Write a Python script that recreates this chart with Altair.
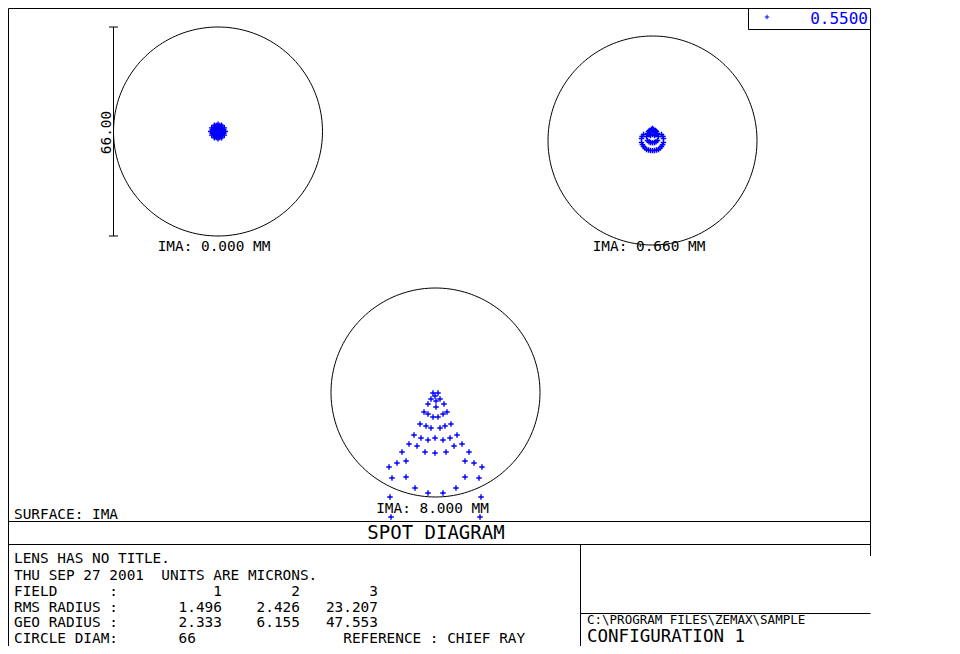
import altair as alt
import pandas as pd
import numpy as np

# ---------------- values ----------------
WAVELENGTH = "0.5500"
FIELDS = [1, 2, 3]
FIELD_LABELS = ["IMA: 0.000 MM", "IMA: 0.660 MM", "IMA: 8.000 MM"]
RMS_RADIUS = ["1.496", "2.426", "23.207"]
GEO_RADIUS = ["2.333", "6.155", "47.553"]
CIRCLE_DIAM = 66          # microns
SCALE_BAR_LABEL = "66.00"

# spot positions (microns, relative to chief ray, y up)
F1_X = [0, 0.8, 0.4, -0.4, -0.8, -0.4, 0.4,
        1.6, 1.4, 0.8, 0, -0.8, -1.4, -1.6, -1.4, -0.8, 0, 0.8, 1.4,
        2.3, 2.0, 1.15, 0, -1.15, -2.0, -2.3, -2.0, -1.15, 0, 1.15, 2.0,
        1.16, 0.85, 0.31, -0.31, -0.85, -1.16, -1.16, -0.85, -0.31, 0.31, 0.85, 1.16,
        1.88, 1.38, 0.5, -0.5, -1.38, -1.88, -1.88, -1.38, -0.5, 0.5, 1.38, 1.88]
F1_Y = [0, 0, 0.7, 0.7, 0, -0.7, -0.7,
        0, 0.8, 1.4, 1.6, 1.4, 0.8, 0, -0.8, -1.4, -1.6, -1.4, -0.8,
        0, 1.15, 2.0, 2.3, 2.0, 1.15, 0, -1.15, -2.0, -2.3, -2.0, -1.15,
        0.31, 0.85, 1.16, 1.16, 0.85, 0.31, -0.31, -0.85, -1.16, -1.16, -0.85, -0.31,
        0.5, 1.38, 1.88, 1.88, 1.38, 0.5, -0.5, -1.38, -1.88, -1.88, -1.38, -0.5]

F2_X = [0.0, -0.95, 0.95, -0.63, 0.63, -1.58, 0.0, 1.58, -1.89, -0.63, 0.63, 1.89,
        -1.58, -0.63, 0.63, 1.58, -3.47, 3.47, -3.47, 3.47, -2.84, 2.84,
        -1.89, 1.89, -0.63, 0.63, -2.84, 2.84,
        -1.26, 1.26, -0.32, 0.32, -1.0, 1.0, 0.0,
        -3.3, 3.3, -3.2, 3.2, -2.4, 2.4, -1.26, 1.26, 0.0,
        -1.1, 1.1, 0.0]
F2_Y = [3.79, 3.16, 3.16, 2.84, 2.84, 2.21, 2.53, 2.21, 1.26, 1.58, 1.58, 1.26,
        0.0, -0.63, -0.63, 0.0, 0.63, 0.63, -0.63, -0.63, -1.89, -1.89,
        -2.84, -2.84, -3.16, -3.16, 1.89, 1.89,
        2.84, 2.84, 3.47, 3.47, 1.9, 1.9, 1.9,
        1.3, 1.3, -1.3, -1.3, -2.4, -2.4, -3.0, -3.0, -3.2,
        -0.4, -0.4, -0.7]

F3_X = [-0.79, 0.79, -0.16, -1.42, 1.42, 0.16, -2.37, 2.68, 0.16, -3.63, 3.63,
        -2.37, 2.37, -0.79, 0.79, -4.89, 4.89, -3.0, 3.0, -1.42, 1.42, -6.79, 6.79,
        -4.58, 4.58, -2.37, 2.37, -0.16, -8.37, 8.37, -5.84, 5.84, -3.32, -0.16, 3.32,
        -10.58, 10.58, -12.16, 12.16, -9.31, 9.31, -14.68, 14.68, -13.74, 13.74,
        -9.31, 9.31, -6.47, 6.47, -2.37, 2.37, -14.37, 14.37, -14.05, 14.05]
F3_Y = [-0.16, -0.16, -1.11, -2.05, -2.05, -2.68, -3.63, -3.63, -4.58, -6.16, -6.16,
        -6.79, -6.79, -7.74, -7.74, -9.95, -9.95, -10.58, -10.58, -11.21, -11.21,
        -13.42, -13.42, -14.37, -14.37, -15.0, -15.0, -14.37, -16.26, -16.26,
        -16.89, -16.89, -18.79, -19.1, -18.79, -18.79, -18.79, -22.26, -22.26,
        -21.63, -21.63, -23.52, -23.52, -27.0, -27.0, -26.68, -26.68, -30.15, -30.15,
        -31.73, -31.73, -33.0, -33.0, -39.31, -39.31]

# ---------------- layout (page pixels) ----------------
CX = [218, 652.5, 435.5]
CY = [131.5, 140.5, 392.5]
PX_PER_UM = 209 / 66
FONT = "DejaVu Sans Mono"
BLUE = "#0000ff"
PLUS = "M-1,0H1M0,-1V1"

XS = alt.Scale(domain=[8, 952], nice=False, zero=False)
YS = alt.Scale(domain=[646, 8], nice=False, zero=False)


def X(f):
    return alt.X(f, type="quantitative", scale=XS, axis=None)


def Y(f):
    return alt.Y(f, type="quantitative", scale=YS, axis=None)


def nb(s):
    return s.replace(" ", "\u00a0")


# spots
rows = []
for f, cx, cy, xs_, ys_ in zip(FIELDS, CX, CY, [F1_X, F2_X, F3_X], [F1_Y, F2_Y, F3_Y]):
    for a, b in zip(xs_, ys_):
        rows.append(dict(field=f, cx=cx, cy=cy, x_um=a, y_um=b))
spots_df = pd.DataFrame(rows)

spots = alt.Chart(spots_df).transform_calculate(
    px=f"datum.cx + datum.x_um * {PX_PER_UM}",
    py=f"datum.cy - datum.y_um * {PX_PER_UM}",
).mark_point(shape=PLUS, filled=False, size=30, strokeWidth=1.4, color=BLUE, opacity=1).encode(
    x=X("px"), y=Y("py")
)

# reference circles (diameter = CIRCLE_DIAM microns)
deg = np.arange(0, 362, 2)
circ_df = pd.DataFrame(
    [dict(field=f, cx=cx, cy=cy, deg=d) for f, cx, cy in zip(FIELDS, CX, CY) for d in deg]
)
R = CIRCLE_DIAM / 2 * PX_PER_UM
circles = alt.Chart(circ_df).transform_calculate(
    px=f"datum.cx + {R} * cos(datum.deg * PI / 180)",
    py=f"datum.cy + {R} * sin(datum.deg * PI / 180)",
).mark_line(color="black", strokeWidth=1).encode(
    x=X("px"), y=Y("py"), detail="field:N", order="deg:Q"
)

# frame lines
top_bar = CY[0] - R
bot_bar = CY[0] + R
lines_df = pd.DataFrame([
    dict(x=8.5, y=8.5, x2=870.5, y2=8.5),        # top
    dict(x=8.5, y=8.5, x2=8.5, y2=646),          # left
    dict(x=870.5, y=8.5, x2=870.5, y2=556),      # right
    dict(x=8.5, y=521.5, x2=870.5, y2=521.5),
    dict(x=8.5, y=544.5, x2=870.5, y2=544.5),
    dict(x=580.5, y=544.5, x2=580.5, y2=646),
    dict(x=580.5, y=613.5, x2=870.5, y2=613.5),
    dict(x=748.5, y=8.5, x2=748.5, y2=29.5),     # legend box
    dict(x=748.5, y=29.5, x2=870.5, y2=29.5),
    dict(x=113.5, y=top_bar, x2=113.5, y2=bot_bar),   # scale bar
    dict(x=109, y=top_bar, x2=118, y2=top_bar),
    dict(x=109, y=bot_bar, x2=118, y2=bot_bar),
])
lines = alt.Chart(lines_df).mark_rule(color="black", strokeWidth=1).encode(
    x=X("x"), y=Y("y"), x2="x2", y2="y2"
)


def text_layer(df, align, size, color="#000000", angle=0):
    return alt.Chart(df).mark_text(
        align=align, baseline="alphabetic", font=FONT, fontSize=size, color=color, angle=angle
    ).encode(x=X("x"), y=Y("y"), text="t:N")


# table rows
row_field = "FIELD      :" + "".join(str(f).rjust(w) for f, w in zip(FIELDS, [12, 9, 9]))
row_rms = "RMS RADIUS :" + "".join(v.rjust(w) for v, w in zip(RMS_RADIUS, [12, 9, 9]))
row_geo = "GEO RADIUS :" + "".join(v.rjust(w) for v, w in zip(GEO_RADIUS, [12, 9, 9]))
row_circ = "CIRCLE DIAM:" + str(CIRCLE_DIAM).rjust(9) + " " * 17 + "REFERENCE : CHIEF RAY"

small_df = pd.DataFrame([
    dict(x=14, y=519, t="SURFACE: IMA"),
    dict(x=14, y=563, t="LENS HAS NO TITLE."),
    dict(x=14, y=580, t="THU SEP 27 2001  UNITS ARE MICRONS."),
    dict(x=14, y=596, t=row_field),
    dict(x=14, y=612, t=row_rms),
    dict(x=14, y=627, t=row_geo),
    dict(x=14, y=643, t=row_circ),
])
small_df["t"] = small_df["t"].map(nb)

label_df = pd.DataFrame(dict(
    x=[CX[0] - 4, CX[1] - 3.5, CX[2] - 3],
    y=[251, 251, 513],
    t=[nb(s) for s in FIELD_LABELS],
))

path_df = pd.DataFrame([dict(x=587, y=624, t=nb("C:\\PROGRAM FILES\\ZEMAX\\SAMPLE"))])
title_df = pd.DataFrame([dict(x=436, y=539, t=nb("SPOT DIAGRAM"))])
config_df = pd.DataFrame([dict(x=587, y=642, t=nb("CONFIGURATION 1"))])
wave_df = pd.DataFrame([dict(x=868, y=24, t=WAVELENGTH)])
bar_df = pd.DataFrame([dict(x=111, y=CY[0] + 1, t=SCALE_BAR_LABEL)])

legend_plus = alt.Chart(pd.DataFrame([dict(x=767, y=17)])).mark_point(
    shape=PLUS, filled=False, size=20, strokeWidth=1, color=BLUE, opacity=1
).encode(x=X("x"), y=Y("y"))

chart = alt.layer(
    lines,
    circles,
    spots,
    text_layer(small_df, "left", 14.4),
    text_layer(label_df, "center", 14.4),
    text_layer(path_df, "left", 12.5),
    text_layer(title_df, "center", 19),
    text_layer(config_df, "left", 17.5),
    text_layer(wave_df, "right", 16, color=BLUE),
    text_layer(bar_df, "center", 14.4, angle=270),
    legend_plus,
).properties(
    width=944, height=638, padding=0, autosize="none", background="white"
).configure_view(stroke=None)

chart.save("out.html", embed_options={"renderer": "svg", "actions": False})
